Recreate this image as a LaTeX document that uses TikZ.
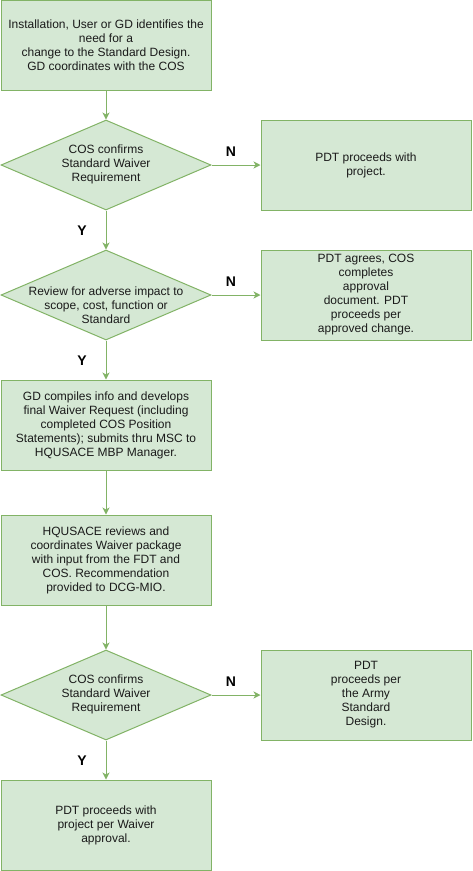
\documentclass[tikz,border=0pt]{standalone}
\usepackage{fontspec}
\setmainfont{Liberation Sans}
\usetikzlibrary{shapes.geometric,arrows.meta}
\definecolor{gfill}{HTML}{D5E8D4}
\definecolor{gline}{HTML}{82B366}
\definecolor{txt}{HTML}{1A1A1A}
\newcommand{\fixtext}[2][0pt]{\makebox[60pt]{\raisebox{#1}[\height][\depth]{\begin{tabular}{@{}c@{}}#2\end{tabular}}}}
\tikzset{
  box/.style={draw=gline,fill=gfill,line width=1pt,minimum width=210pt,minimum height=90pt,
    inner sep=0pt,align=center,font=\fontsize{12}{14}\selectfont,text=txt},
  dec/.style={draw=gline,fill=gfill,line width=1pt,diamond,aspect=2.333,minimum width=210pt,minimum height=90pt,
    inner sep=0pt,font=\fontsize{12}{14}\selectfont,text=txt},
  conn/.style={draw=gline,line width=1pt,-{Stealth[length=7pt,width=7pt,inset=2pt]}},
  lab/.style={font=\fontsize{14}{16}\selectfont\bfseries,inner sep=0pt}
}
\begin{document}
\begin{tikzpicture}[x=1pt,y=-1pt]
\useasboundingbox (0,0) rectangle (472,871);
\node[box] (b1) at (106,45) {Installation, User or GD identifies the\\need for a\\change to the Standard Design.\\GD coordinates with the COS};
\node[dec] (d1) at (106,165) {\fixtext{COS confirms\\Standard Waiver\\Requirement}};
\node[box] (r1) at (366,165) {PDT proceeds with\\project.};
\node[dec] (d2) at (106,295) {\fixtext[-12pt]{Review for adverse impact to\\scope, cost, function or\\Standard}};
\node[box] (r2) at (366,295) {PDT agrees, COS\\completes\\approval\\document. PDT\\proceeds per\\approved change.};
\node[box] (b3) at (106,425) {GD compiles info and develops\\final Waiver Request (including\\completed COS Position\\Statements); submits thru MSC to\\HQUSACE MBP Manager.};
\node[box] (b4) at (106,560) {HQUSACE reviews and\\coordinates Waiver package\\with input from the FDT and\\COS. Recommendation\\provided to DCG-MIO.};
\node[dec] (d3) at (106,695) {\fixtext{COS confirms\\Standard Waiver\\Requirement}};
\node[box] (r3) at (366,695) {PDT\\proceeds per\\the Army\\Standard\\Design.};
\node[box] (b5) at (106,825) {PDT proceeds with\\project per Waiver\\approval.};
\draw[conn] (b1) -- (d1);
\draw[conn] (d1) -- (r1);
\draw[conn] (d1) -- (d2);
\draw[conn] (d2) -- (r2);
\draw[conn] (d2) -- (b3);
\draw[conn] (b3) -- (b4);
\draw[conn] (b4) -- (d3);
\draw[conn] (d3) -- (r3);
\draw[conn] (d3) -- (b5);
\node[lab] (n1) at (231,152) {N};
\node[lab] (y1) at (82,231) {Y};
\node[lab] (n2) at (231,282) {N};
\node[lab] (y2) at (82,361) {Y};
\node[lab] (n3) at (231,682) {N};
\node[lab] (y3) at (82,761) {Y};
\end{tikzpicture}
\end{document}
